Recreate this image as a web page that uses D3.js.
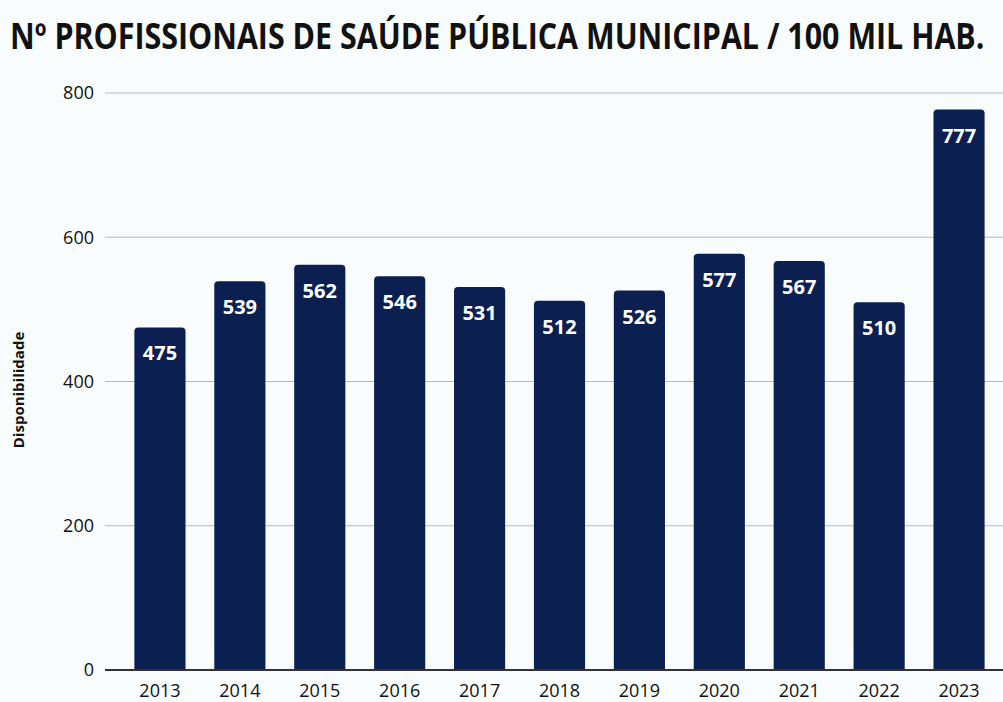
<!DOCTYPE html>
<html>
<head>
<meta charset="utf-8">
<script src="https://cdn.jsdelivr.net/npm/d3@7"></script>
<style>
  html, body { margin: 0; padding: 0; background: #f9fcfd; }
  svg { display: block; }
</style>
</head>
<body>
<svg id="chart" width="1003" height="702"></svg>
<script>
const years = ["2013", "2014", "2015", "2016", "2017", "2018", "2019", "2020", "2021", "2022", "2023"];
const values = [475, 539, 562, 546, 531, 512, 526, 577, 567, 510, 777];
const yTicks = [0, 200, 400, 600, 800];
const title = "Nº PROFISSIONAIS DE SAÚDE PÚBLICA MUNICIPAL / 100 MIL HAB.";
const yLabel = "Disponibilidade";

const width = 1003, height = 702;
const margin = { top: 93, right: 4, bottom: 32, left: 120 };
const barColor = "#0b1f50";
const font = "'Open Sans', 'Liberation Sans', sans-serif";

const svg = d3.select("#chart");

const x = d3.scaleBand()
  .domain(years)
  .range([margin.left, 999])
  .paddingInner(0.36)
  .paddingOuter(0.18);

const y = d3.scaleLinear()
  .domain([0, 800])
  .range([height - margin.bottom, margin.top]);

// Title, squeezed horizontally to the reference width
const titleText = svg.append("text")
  .style("font-family", font)
  .style("font-size", "35px")
  .style("font-weight", 700)
  .style("fill", "#111")
  .text(title);
const natural = titleText.node().getComputedTextLength();
const sx = Math.min(1, 975 / natural);
titleText.attr("transform", `translate(10,49) scale(${sx},1)`);

// Grid lines
svg.append("g")
  .selectAll("line")
  .data(yTicks.filter(d => d > 0))
  .join("line")
  .attr("x1", 105)
  .attr("x2", width)
  .attr("y1", d => y(d))
  .attr("y2", d => y(d))
  .attr("stroke", "#b8b8b8")
  .attr("stroke-width", 1.2);

// Y axis labels
svg.append("g")
  .selectAll("text")
  .data(yTicks)
  .join("text")
  .attr("x", 94)
  .attr("y", d => y(d))
  .attr("dy", "0.35em")
  .attr("text-anchor", "end")
  .style("font-family", font)
  .style("font-size", "18px")
  .style("fill", "#111")
  .text(d => d);

// Y axis title
svg.append("text")
  .attr("transform", "rotate(-90)")
  .attr("x", -390)
  .attr("y", 24)
  .attr("text-anchor", "middle")
  .style("font-family", font)
  .style("font-size", "15px")
  .style("font-weight", 700)
  .style("fill", "#111")
  .text(yLabel);

// Bars with rounded top corners
const r = 4;
const barPath = (x0, y0, w, h) =>
  `M${x0},${y0 + h}V${y0 + r}Q${x0},${y0} ${x0 + r},${y0}H${x0 + w - r}Q${x0 + w},${y0} ${x0 + w},${y0 + r}V${y0 + h}Z`;

svg.append("g")
  .selectAll("path")
  .data(values)
  .join("path")
  .attr("d", (d, i) => barPath(x(years[i]), y(d), x.bandwidth(), y(0) - y(d)))
  .attr("fill", barColor);

// Value labels
svg.append("g")
  .selectAll("text")
  .data(values)
  .join("text")
  .attr("x", (d, i) => x(years[i]) + x.bandwidth() / 2)
  .attr("y", d => y(d) + 33)
  .attr("text-anchor", "middle")
  .style("font-family", font)
  .style("font-size", "20px")
  .style("font-weight", 700)
  .style("fill", "#fff")
  .text(d => d);

// Baseline
svg.append("line")
  .attr("x1", 105)
  .attr("x2", width)
  .attr("y1", y(0))
  .attr("y2", y(0))
  .attr("stroke", "#333")
  .attr("stroke-width", 2);

// X axis labels
svg.append("g")
  .selectAll("text")
  .data(years)
  .join("text")
  .attr("x", d => x(d) + x.bandwidth() / 2)
  .attr("y", 697)
  .attr("text-anchor", "middle")
  .style("font-family", font)
  .style("font-size", "18px")
  .style("fill", "#111")
  .text(d => d);
</script>
</body>
</html>
